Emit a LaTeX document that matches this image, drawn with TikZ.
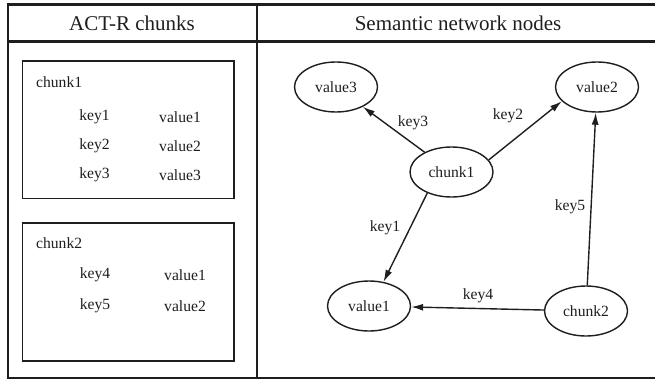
\documentclass[tikz,border=0pt]{standalone}
\usepackage{fontspec}
\setmainfont{Liberation Serif}
\usetikzlibrary{arrows.meta,shapes.geometric}
\definecolor{ink}{HTML}{1E1E1E}
\begin{document}
\begin{tikzpicture}[x=1pt,y=-1pt,
  frame/.style={draw=ink,line width=2.2pt},
  chunkbox/.style={draw=ink,line width=1.6pt},
  head/.style={font=\fontsize{21}{25}\selectfont,text=ink,inner sep=0pt},
  txt/.style={font=\fontsize{15.6}{19}\selectfont,text=ink,inner sep=0pt},
  enode/.style={ellipse,draw=ink,line width=1.4pt,minimum width=83pt,minimum height=50pt,inner sep=0pt,font=\fontsize{15.6}{19}\selectfont,text=ink},
  link/.style={draw=ink,line width=1.4pt,-{Latex[length=12pt,width=7pt]}},
  lab/.style={font=\fontsize{15.6}{19}\selectfont,text=ink,inner sep=0pt}]
\useasboundingbox (0,0) rectangle (655,380);
\clip (0,0) rectangle (655,380);
% outer table
\draw[frame] (664,4.5) -- (8,4.5) -- (8,378) -- (664,378);
\draw[frame] (8,41.5) -- (664,41.5);
\draw[frame] (257,4.5) -- (257,378);
\node[head] (h1) at (132,23) {ACT-R chunks};
\node[head] (h2) at (458,23) {Semantic network nodes};
% chunk boxes
\draw[chunkbox] (22.5,61) rectangle (234,198.5);
\draw[chunkbox] (22.5,223) rectangle (234,361);
\node[txt,anchor=west] (c1t) at (36,82) {chunk1};
\node[txt] (k1) at (94.5,117) {key1};
\node[txt] (v1) at (180,117) {value1};
\node[txt] (k2) at (94.5,146) {key2};
\node[txt] (v2) at (180,146) {value2};
\node[txt] (k3) at (94.5,175) {key3};
\node[txt] (v3) at (180,175) {value3};
\node[txt,anchor=west] (c2t) at (36,243) {chunk2};
\node[txt] (k4) at (95,275) {key4};
\node[txt] (v4) at (185,275) {value1};
\node[txt] (k5) at (95,306) {key5};
\node[txt] (v5) at (185,306) {value2};
% semantic network
\node[enode] (nv3) at (336,87) {value3};
\node[enode] (nv2) at (597,87) {value2};
\node[enode] (nc1) at (451.5,172) {chunk1};
\node[enode] (nv1) at (369,306) {value1};
\node[enode] (nc2) at (586,311) {chunk2};
\draw[link] (nc1) -- (nv3);
\draw[link] (nc1.18) -- (nv2.202);
\draw[link] (nc1.221) -- (nv1.59);
\draw[link] (nc2) -- (nv1);
\draw[link] (nc2) -- (nv2);
\node[lab] (l3) at (413,123) {key3};
\node[lab] (l2) at (508,116) {key2};
\node[lab] (l5) at (570,207) {key5};
\node[lab] (l1) at (385,228) {key1};
\node[lab] (l4) at (478,296) {key4};
\end{tikzpicture}
\end{document}
